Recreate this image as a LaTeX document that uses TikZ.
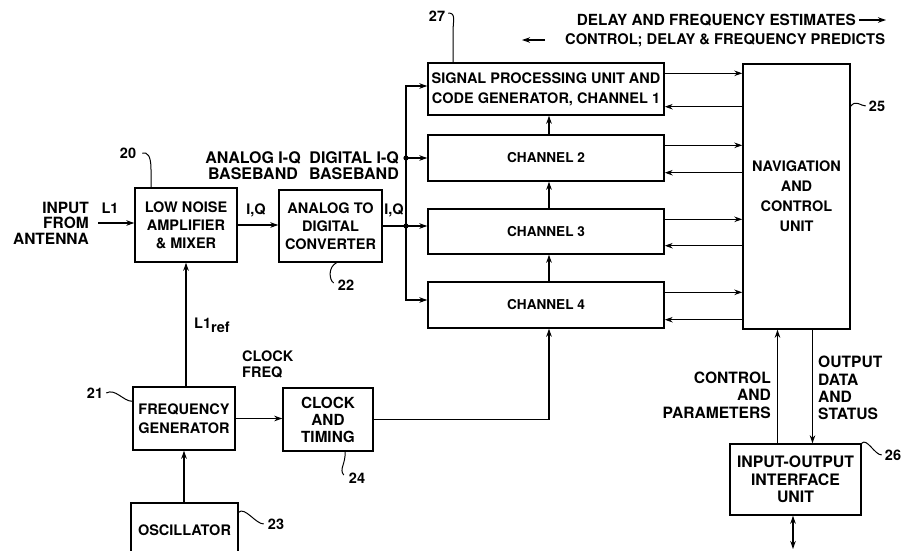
\documentclass[tikz,border=0pt]{standalone}
\usepackage{fontspec}
\setmainfont{TeX Gyre Heros}
\usetikzlibrary{arrows.meta,positioning}
\tikzset{
  blk/.style={ draw, line width=1.4pt, align=center, inner sep=1pt }
}
\tikzset{
  arr/.style={ line width=1.1pt, -{Stealth[length=8pt,width=5.5pt]} }
}
\tikzset{
  arrboth/.style={ line width=1.1pt, {Stealth[length=8pt,width=5.5pt]}-{Stealth[length=8pt,width=5.5pt]} }
}
\tikzset{
  lead/.style={ line width=1pt }
}
\tikzset{
  txt/.style={ inner sep=0pt, align=center }
}
\newcommand{\lbl}[2]{\fontsize{#1}{#2}\selectfont\bfseries}

\begin{document}
\begin{tikzpicture}[x=1pt, y=-1pt, font=\lbl{14.5}{18}]
      \clip (0,0) rectangle (903,550);

      % blocks
      \node[blk, minimum width=102pt, minimum height=74pt] (lna) at (186,225) {LOW NOISE\\AMPLIFIER\\\& MIXER};
      \node[blk, minimum width=103pt, minimum height=72pt] (adc) at (330.5,226) {ANALOG TO\\DIGITAL\\CONVERTER};
      \node[blk, minimum width=236pt, minimum height=52pt, font=\lbl{14.5}{20}] (spu) at (546,89) {SIGNAL PROCESSING UNIT AND\\CODE GENERATOR, CHANNEL 1};
      \node[blk, minimum width=236pt, minimum height=46pt, font=\lbl{13.6}{18}] (ch2) at (546,158) {CHANNEL 2};
      \node[blk, minimum width=236pt, minimum height=45pt, font=\lbl{13.6}{18}] (ch3) at (546,231.5) {CHANNEL 3};
      \node[blk, minimum width=236pt, minimum height=46pt, font=\lbl{13.6}{18}] (ch4) at (546,305) {CHANNEL 4};
      \node[blk, minimum width=107pt, minimum height=265pt, font=\lbl{14.5}{20}] (nav) at (796.5,196.5) {NAVIGATION\\AND\\CONTROL\\UNIT};
      \node[blk, minimum width=102pt, minimum height=63pt, font=\lbl{14.5}{19}] (fg) at (184,418.5) {FREQUENCY\\GENERATOR};
      \node[blk, minimum width=90pt, minimum height=63pt, font=\lbl{15.3}{17}] (clk) at (328,419.5) {CLOCK\\AND\\TIMING};
      \node[blk, minimum width=107pt, minimum height=54pt] (osc) at (184.5,530) {OSCILLATOR};
      \node[blk, minimum width=131pt, minimum height=71pt, font=\lbl{15.8}{17.5}] (io) at (795.5,479.5) {INPUT-OUTPUT\\INTERFACE\\UNIT};

      % texts
      \node[txt, anchor=east, align=right, font=\lbl{15.5}{15.5}] (ant) at (89,223) {INPUT\\FROM\\ANTENNA};
      \node[txt] (l1) at (110,208) {L1};
      \node[txt] (iq1) at (256,210) {I,Q};
      \node[txt] (iq2) at (394,210) {I,Q};
      \node[txt, font=\lbl{16}{16}] (aiq) at (253,166) {ANALOG I-Q\\BASEBAND};
      \node[txt, anchor=east, align=right, font=\lbl{16}{16}] (diq) at (399,166) {DIGITAL I-Q\\BASEBAND};
      \node[txt, anchor=west] (l1ref) at (194,325) {L1\raisebox{-4pt}{ref}};
      \node[txt, anchor=west, align=left, font=\lbl{14.5}{16}] (cf) at (242,364) {CLOCK\\FREQ};
      \node[txt, anchor=east, align=right, font=\lbl{15.6}{17.5}] (cap) at (771,395) {CONTROL\\AND\\PARAMETERS};
      \node[txt, anchor=west, align=left, font=\lbl{15.6}{17.3}] (ods) at (818,388) {OUTPUT\\DATA\\AND\\STATUS};
      \node[txt, anchor=east, font=\lbl{15.3}{18}] (est) at (856,20) {DELAY AND FREQUENCY ESTIMATES};
      \node[txt, anchor=west, font=\lbl{14.7}{18}] (pred) at (565,40) {CONTROL; DELAY \& FREQUENCY PREDICTS};

      % reference numbers
      \node[txt] (n20) at (128,153) {20};
      \node[txt] (n22) at (346,285) {22};
      \node[txt] (n27) at (437,16) {27};
      \node[txt] (n25) at (877,106) {25};
      \node[txt] (n21) at (95,393) {21};
      \node[txt] (n24) at (357,478) {24};
      \node[txt] (n23) at (276,524) {23};
      \node[txt] (n26) at (893,455) {26};

      \draw[lead] ([xshift=-35pt]lna.north) -- ++(0,-18) .. controls ++(0,-14) and ++(5,-1) .. ([xshift=6pt]n20.east);
      \draw[lead] ([xshift=6pt]adc.south) .. controls (328,267) and (329,280) .. ([xshift=-4pt,yshift=2pt]n22.west);
      \draw[lead] ([xshift=3pt,yshift=3pt]n27.east) .. controls ++(8,0) and ++(0,-12) .. ([xshift=-93pt,yshift=30pt]spu.north) -- ([xshift=-93pt]spu.north);
      \draw[lead] ([yshift=-43pt]nav.north east) .. controls ++(5,-7) and ++(-5,0) .. ([xshift=-3pt]n25.west);
      \draw[lead] ([xshift=3pt]n21.east) .. controls ++(9,-5) and ++(-9,0) .. ([yshift=-15pt]fg.north west);
      \draw[lead] ([xshift=17pt]clk.south) .. controls ++(1,12) and ++(-5,-6) .. ([xshift=-5pt,yshift=3pt]n24.west);
      \draw[lead] ([yshift=-10pt]osc.north east) .. controls ++(6,-6) and ++(-8,0) .. ([xshift=-4pt]n23.west);
      \draw[lead] (io.north east) .. controls ++(5,-6) and ++(-7,0) .. ([xshift=-3pt]n26.west);

      % signal path
      \coordinate (j2) at (406,158);
      \coordinate (j3) at (406,226);
      \draw[arr] ([xshift=9pt]ant.east) -- (ant.east -| lna.west);
      \draw[arr] (lna.east) -- (lna.east -| adc.west);
      \draw[line width=1.1pt] (adc.east) -- (j3);
      \draw[arr] (j3) |- ([yshift=3pt]spu.west);
      \draw[arr] (j3) |- ([yshift=5pt]ch4.west);
      \draw[arr] (j2) -- (ch2.west);
      \draw[arr] (j3) -- (j3 -| ch3.west);
      \fill (j2) circle (2.6pt);
      \fill (j3) circle (2.6pt);

      \draw[arr] ([xshift=3pt]ch4.north) -- ([xshift=3pt]ch3.south);
      \draw[arr] ([xshift=3pt]ch3.north) -- ([xshift=3pt]ch2.south);
      \draw[arr] ([xshift=3pt]ch2.north) -- ([xshift=3pt]spu.south);

      \foreach \c in {spu,ch2,ch3,ch4} {
        \draw[arr] ([yshift=-11pt]\c.north east) -- ([yshift=-11pt]\c.north east -| nav.west);
        \draw[arr] ([yshift=9pt]\c.south east -| nav.west) -- ([yshift=9pt]\c.south east);
      }

      % clocks
      \draw[arr] (lna.south |- fg.north) -- (lna.south);
      \draw[arr] (fg.south |- osc.north) -- (fg.south);
      \draw[arr] (fg.east) -- (fg.east -| clk.west);
      \draw[arr] (clk.east) -| ([xshift=3pt]ch4.south);

      % navigation i/o
      \draw[arr] ([xshift=-18pt]io.north) -- ([xshift=-18pt]io.north |- nav.south);
      \draw[arr] ([xshift=17pt]io.north |- nav.south) -- ([xshift=17pt]io.north);
      \coordinate (iobot) at (793,549);
      \draw[arrboth] (iobot |- io.south) -- (iobot);

      \coordinate (estend) at (886,20);
      \coordinate (predend) at (522,40);
      \draw[arr] ([xshift=3pt]est.east) -- (estend);
      \draw[arr] ([xshift=-20pt]pred.west) -- (predend);
    \end{tikzpicture}
\end{document}
